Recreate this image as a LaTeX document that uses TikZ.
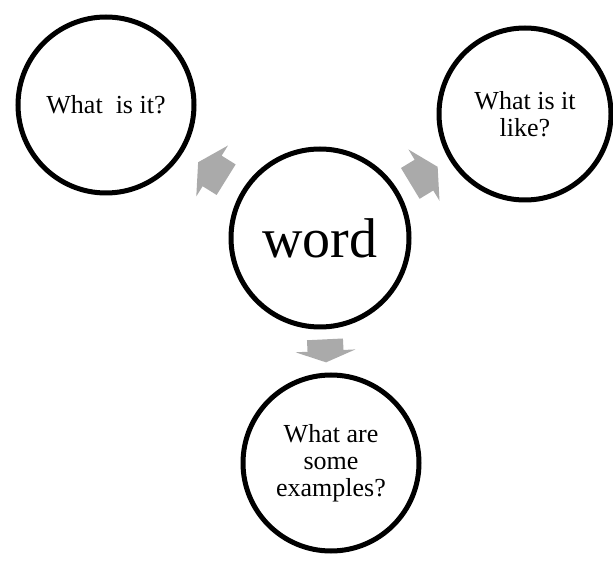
\documentclass[tikz,border=0pt]{standalone}
\usepackage{fontspec}
\setmainfont{Liberation Serif}
\usetikzlibrary{calc}
\definecolor{arrowgray}{RGB}{170,170,170}
\tikzset{
  topic/.style={circle, draw=black, line width=5pt, minimum size=176pt,
    inner sep=0pt, align=center, font=\fontsize{26}{27}\selectfont},
  hub/.style={topic, minimum size=178pt, font=\fontsize{56}{60}\selectfont},
}
% block arrow between two circles: from, to, distance from the first centre, angle, length
\newcommand{\radialarrow}[5]{%
  \begin{scope}[shift={($(#1)!#3!(#2)$)}, rotate=#4]
    \fill[arrowgray] (-#5/2,-18) -- (0,-18) -- (0,-30) -- (#5/2,0)
      -- (0,30) -- (0,18) -- (-#5/2,18) -- cycle;
  \end{scope}}
\begin{document}
\begin{tikzpicture}[x=1pt,y=1pt]
\useasboundingbox (0,0) rectangle (613,560);
\node[hub] (hub) at (320,322) {word};
\node[topic] (what) at (106,455) {What\ \ is it?};
\node[topic, minimum size=172pt] (like) at (525,446) {What is it\\like?};
\node[topic] (examples) at (331,97) {What are\\some\\examples?};
\radialarrow{hub}{what}{127pt}{148.1}{33}
\radialarrow{hub}{like}{121.5pt}{31.2}{32}
\radialarrow{hub}{examples}{113pt}{-87.2}{23}
\end{tikzpicture}
\end{document}
